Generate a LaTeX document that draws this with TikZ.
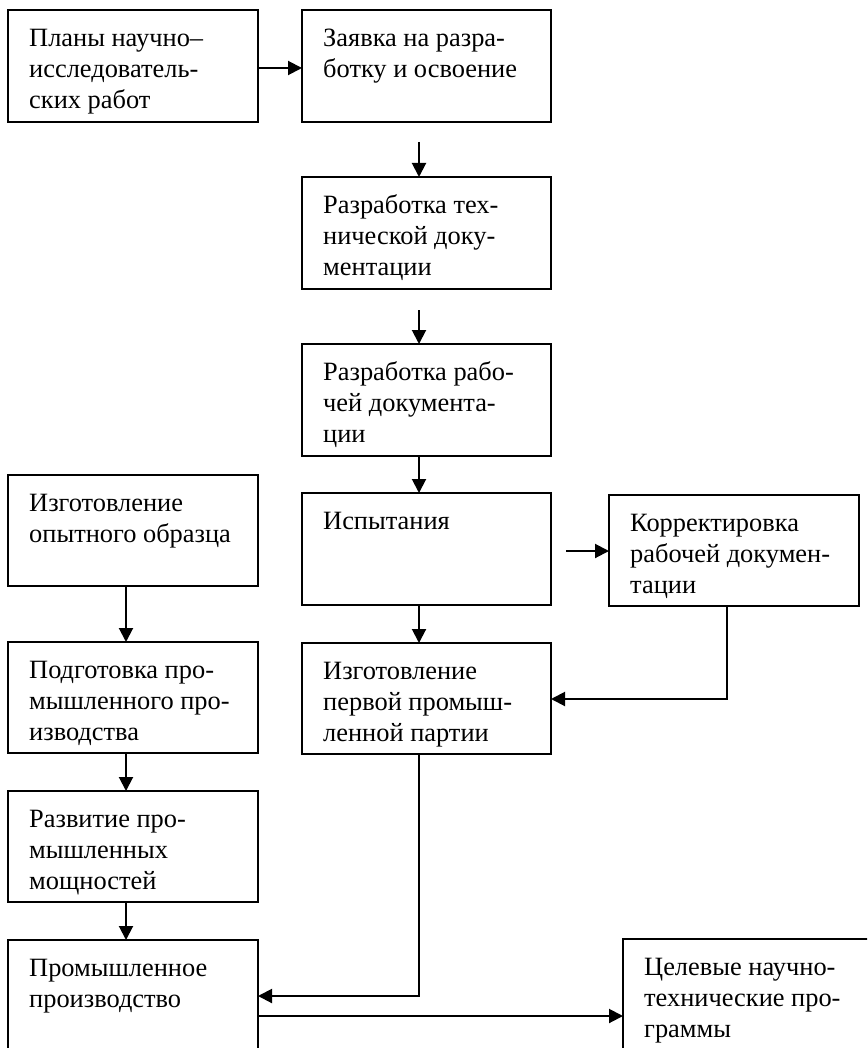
\documentclass[tikz,border=0pt]{standalone}
\usepackage{fontspec}
\setmainfont{Liberation Serif}
\usetikzlibrary{arrows.meta}
\tikzset{
  box/.style={draw, line width=1.5pt, rectangle, inner sep=0pt, outer sep=0pt},
  txt/.style={anchor=north west, inner sep=0pt, align=left,
    font=\fontsize{26.4}{31}\selectfont},
  arr/.style={line width=2pt, -{Triangle[length=14pt,width=14pt]}},
}
\newcommand{\bx}[6]{% name, x1, y1, x2, y2, text
  \node[box, minimum width={(#4-#2)*1pt}, minimum height={(#5-#3)*1pt}]
    (#1) at ({(#2+#4)/2},{(#3+#5)/2}) {};
  \node[txt] (#1t) at ([xshift=21pt,yshift=-14.8pt]#1.north west) {\strut #6};
}
\begin{document}
\begin{tikzpicture}[x=1pt,y=-1pt]
\useasboundingbox (0,0) rectangle (867,1048);
\clip (0,0) rectangle (867,1048);
\bx{b1}{8}{10}{258}{122}{Планы научно–\\исследователь-\\ских работ}
\bx{b2}{302}{10}{551}{122}{Заявка на разра-\\ботку и освоение}
\bx{b3}{302}{177}{551}{289}{Разработка тех-\\нической доку-\\ментации}
\bx{b4}{302}{344}{551}{456}{Разработка рабо-\\чей документа-\\ции}
\bx{b5}{302}{493}{551}{605}{Испытания}
\bx{b12}{609}{495}{859}{606}{Корректировка\\рабочей докумен-\\тации}
\bx{b6}{8}{475}{258}{586}{Изготовление\\опытного образца}
\bx{b7}{8}{642}{258}{753}{Подготовка про-\\мышленного про-\\изводства}
\bx{b8}{302}{643}{551}{754}{Изготовление\\первой промыш-\\ленной партии}
\bx{b9}{8}{791}{258}{902}{Развитие про-\\мышленных\\мощностей}
\bx{b10}{8}{940}{258}{1070}{Промышленное\\производство}
\bx{b11}{623}{939}{890}{1070}{Целевые научно-\\технические про-\\граммы}

\coordinate (s2) at (419,142);
\coordinate (s3) at (419,310);
\coordinate (s5) at (566,551);
\coordinate (k1) at (727,699);
\coordinate (k2) at (419,996);

\draw[arr] (b1.east |- 0,68) -- (b2.west |- 0,68);
\draw[arr] (s2) -- (s2 |- b3.north);
\draw[arr] (s3) -- (s3 |- b4.north);
\draw[arr] (419,0 |- b4.south) -- (419,0 |- b5.north);
\draw[arr] (s5) -- (s5 -| b12.west);
\draw[arr] (419,0 |- b5.south) -- (419,0 |- b8.north);
\draw[arr] (k1 |- b12.south) -- (k1) -- (k1 -| b8.east);
\draw[arr] (126,0 |- b6.south) -- (126,0 |- b7.north);
\draw[arr] (126,0 |- b7.south) -- (126,0 |- b9.north);
\draw[arr] (126,0 |- b9.south) -- (126,0 |- b10.north);
\draw[arr] (k2 |- b8.south) -- (k2) -- (k2 -| b10.east);
\draw[arr] (b10.east |- 0,1016) -- (b11.west |- 0,1016);
\end{tikzpicture}
\end{document}
